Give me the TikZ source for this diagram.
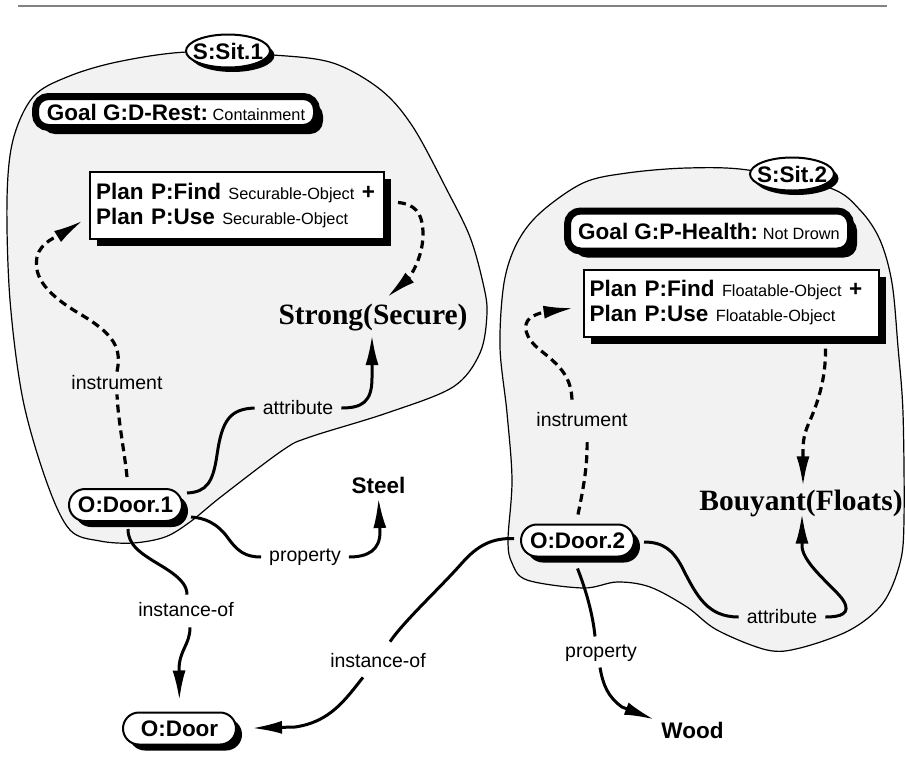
\documentclass[tikz,border=0pt]{standalone}
\usepackage{fontspec}
\setsansfont{Liberation Sans}
\newfontfamily\serifbold{Liberation Serif}
\usetikzlibrary{shapes.geometric,shadows,arrows.meta,calc}
\definecolor{blobfill}{RGB}{242,242,242}
\definecolor{rulegray}{RGB}{130,130,130}

% type sizes
\newcommand\bsf{\sffamily\bfseries\fontsize{22.5}{25}\selectfont}
\newcommand\ssf{\sffamily\mdseries\fontsize{16.3}{19}\selectfont}
\newcommand\lsf{\sffamily\mdseries\fontsize{19.5}{22}\selectfont}
\newcommand\tsb{\serifbold\bfseries\fontsize{29.5}{32}\selectfont}

\tikzset{
  blob/.style={draw, line width=1.2pt, fill=blobfill},
  sitnode/.style={ellipse, draw, line width=2pt, fill=white, inner sep=0pt,
    minimum width=84pt, minimum height=33pt, font=\bsf,
    drop shadow={shadow xshift=4.5pt, shadow yshift=-4.5pt, fill=black, opacity=1}},
  goalbox/.style={draw, line width=7pt, fill=white, rounded corners=13pt,
    inner sep=0pt, font=\bsf,
    drop shadow={shadow xshift=6.5pt, shadow yshift=-6.5pt, fill=black, opacity=1}},
  planbox/.style={draw, line width=2pt, fill=white, text width=282pt, align=left,
    inner xsep=6pt, inner ysep=0pt, minimum height=67pt, font=\bsf,
    drop shadow={shadow xshift=7pt, shadow yshift=-7pt, fill=black, opacity=1}},
  pill/.style={draw, line width=2pt, fill=white, rounded corners=16pt,
    minimum width=113pt, minimum height=32pt, inner sep=0pt, font=\bsf,
    drop shadow={shadow xshift=6pt, shadow yshift=-6pt, fill=black, opacity=1}},
  term/.style={inner sep=0pt, anchor=base},
  lab/.style={font=\lsf, inner xsep=8pt, inner ysep=4pt},
  solidlink/.style={line width=3pt},
  dashlink/.style={line width=3.2pt, dash pattern=on 8pt off 5pt},
  arrowend/.style={-{Latex[length=30pt,width=13pt]}},
}

\begin{document}
\begin{tikzpicture}[x=1pt,y=-1pt]
\useasboundingbox (0,0) rectangle (905,769);

% header rule
\draw[rulegray, line width=2pt] (18,6) -- (887,6);

% situation regions
\draw[blob] plot[smooth cycle, tension=0.55] coordinates {
  (187,52) (117,62) (67,77) (33,97) (13,140) (7,200) (10,300) (23,400)
  (47,483) (70,530) (100,541) (133,543) (165,537) (190,522) (222,496)
  (283,450) (310,437) (387,413) (453,387) (480,353) (487,313) (483,283)
  (470,237) (447,190) (413,127) (381,90) (333,63) (273,55)};
\draw[blob] plot[smooth cycle, tension=0.55] coordinates {
  (748,170) (687,168) (627,173) (583,183) (540,213) (517,243) (504,283)
  (500,347) (507,413) (512,480) (508,540) (512,563) (527,580) (583,588)
  (617,582) (650,587) (687,607) (717,630) (767,650) (800,648) (850,630)
  (883,603) (900,563) (904,520) (903,413) (898,347) (892,283) (880,240)
  (860,210) (830,188)};

% situation tags
\node[sitnode] (sit1) at (228,51) {\makebox[0pt]{S:Sit.1}};
\node[sitnode] (sit2) at (792,174) {\makebox[0pt]{S:Sit.2}};

% goals and plans
\node[goalbox, minimum width=281pt, minimum height=31pt] (goal1) at (176,112)
  {Goal G:D-Rest:{\ssf\ Containment}};
\node[goalbox, minimum width=283pt, minimum height=40pt] (goal2) at (709,231)
  {Goal G:P-Health:{\ssf\ Not Drown}};
\node[planbox] (plan1) at (237,205.5)
  {Plan P:Find{\ssf\ Securable-Object} +\\Plan P:Use{\ssf\ Securable-Object}};
\node[planbox, text width=283pt] (plan2) at (731,303)
  {Plan P:Find{\ssf\ Floatable-Object} +\\Plan P:Use{\ssf\ Floatable-Object}};

% objects
\node[pill] (door1) at (125.5,505) {O:Door.1};
\node[pill] (door2) at (577.5,540.5) {O:Door.2};
\node[pill] (door) at (179.5,728.5) {O:Door};

% values
\node[term, font=\tsb] (strong) at (373,324) {Strong(Secure)};
\node[term, font=\tsb] (bouy) at (801,510) {Bouyant(Floats)};
\node[term, font=\bsf] (steel) at (378.5,493) {Steel};
\node[term, font=\bsf] (wood) at (692.5,738) {Wood};

% relation labels
\node[lab] (linst1) at (117,383) {instrument};
\node[lab] (lattr1) at (298,408) {attribute};
\node[lab] (lprop1) at (305,557) {property};
\node[lab] (linsof1) at (186,610) {instance-of};
\node[lab] (linst2) at (582,420) {instrument};
\node[lab] (lattr2) at (782,617) {attribute};
\node[lab] (lprop2) at (601,653) {property};
\node[lab] (linsof2) at (378,661) {instance-of};

% connector ends
\coordinate (p1in) at ($(plan1.west)+(-6,15)$);
\coordinate (p2in) at ($(plan2.west)+(-9,5)$);
\coordinate (strongbot) at ($(strong.base)+(-1,11)$);
\coordinate (strongtop) at ($(strong.north)+(14,-6)$);
\coordinate (steelbot) at ($(steel.base)+(0,5)$);
\coordinate (bouytop) at ($(bouy.north)+(2,-3)$);
\coordinate (bouybot) at ($(bouy.south)+(1,-3)$);
\coordinate (woodin) at ($(wood.north west)+(-7,-2)$);

% O:Door.1 instrument -> plan
\draw[dashlink] ($(door1.north)+(1.5,-11)$) .. controls (125,455) and (118,420) .. (linst1.south);
\draw[dashlink, arrowend] (linst1.north) .. controls (122,348) and (114,334) .. (80,314)
  .. controls (48,295) and (33,278) .. (37,257)
  .. controls (40,242) and (60,235) .. (p1in);

% O:Door.1 attribute -> Strong(Secure)
\draw[solidlink] ($(door1.east)+(4,-12)$) .. controls (207,492) and (213,482) .. (217,455)
  .. controls (222,420) and (230,409) .. (lattr1.west);
\draw[solidlink, arrowend] (lattr1.east) .. controls (362,408) and (372,402) .. (372,378) -- (strongbot);

% plan -> Strong(Secure)
\draw[dashlink, arrowend] ($(plan1.east)+(13,-3)$) .. controls (414,204) and (423,212) .. (423,234)
  .. controls (423,260) and (408,279) .. (strongtop);

% O:Door.1 property -> Steel
\draw[solidlink] ($(door1.east)+(8,12)$) .. controls (205,518) and (217,523) .. (228,538)
  .. controls (238,552) and (246,557) .. (lprop1.west);
\draw[solidlink, arrowend] (lprop1.east) .. controls (368,557) and (380,550) .. (380,532) -- (steelbot);

% O:Door.1 instance-of -> O:Door
\draw[solidlink] ($(door1.south)+(2.5,7)$) .. controls (128,545) and (140,553) .. (160,565)
  .. controls (180,577) and (187,585) .. ($(linsof1.north)+(1,-4)$);
\draw[solidlink, arrowend, shorten >=11pt] ($(linsof1.south)+(4,6)$) .. controls (190,645) and (179,650) .. (179,670) -- (door.north);

% O:Door.2 instance-of -> O:Door
\draw[solidlink] ($(door2.west)+(-6,-2)$) .. controls (492,538) and (478,545) .. (462,563)
  .. controls (440,588) and (405,620) .. ($(linsof2.north)+(12,-8)$);
\draw[solidlink, arrowend, shorten >=15pt] ($(linsof2.south)+(-15,5)$) .. controls (345,700) and (330,722) .. (295,727) -- (door.east);

% O:Door.2 instrument -> plan
\draw[dashlink] ($(door2.north)+(0.5,-9)$) .. controls (583,490) and (588,465) .. ($(linst2.south)+(5,6)$);
\draw[dashlink, arrowend] ($(linst2.north)+(-10,-9)$) .. controls (571,378) and (562,367) .. (540,350)
  .. controls (525,338) and (522,325) .. (530,318)
  .. controls (538,312) and (552,311) .. (p2in);

% plan -> Bouyant(Floats)
\draw[dashlink, arrowend] ($(plan2.south)+(94.5,11)$) .. controls (826,380) and (817,405) .. (808,425)
  .. controls (803,437) and (803,445) .. (803,452) -- (bouytop);

% O:Door.2 attribute -> Bouyant(Floats)
\draw[solidlink] ($(door2.east)+(9,1.5)$) .. controls (663,542) and (673,550) .. (682,567)
  .. controls (697,597) and (708,617) .. (lattr2.west);
\draw[solidlink, arrowend] (lattr2.east) .. controls (840,617) and (852,614) .. (843,600)
  .. controls (835,588) and (804,565) .. (802,547) -- (bouybot);

% O:Door.2 property -> Wood
\draw[solidlink] ($(door2.south)+(0,11)$) .. controls (586,590) and (593,615) .. ($(lprop2.north)+(-6,-4)$);
\draw[solidlink, arrowend] ($(lprop2.south)+(-1,2)$) .. controls (603,685) and (608,697) .. (622,707) -- (woodin);

\end{tikzpicture}
\end{document}
